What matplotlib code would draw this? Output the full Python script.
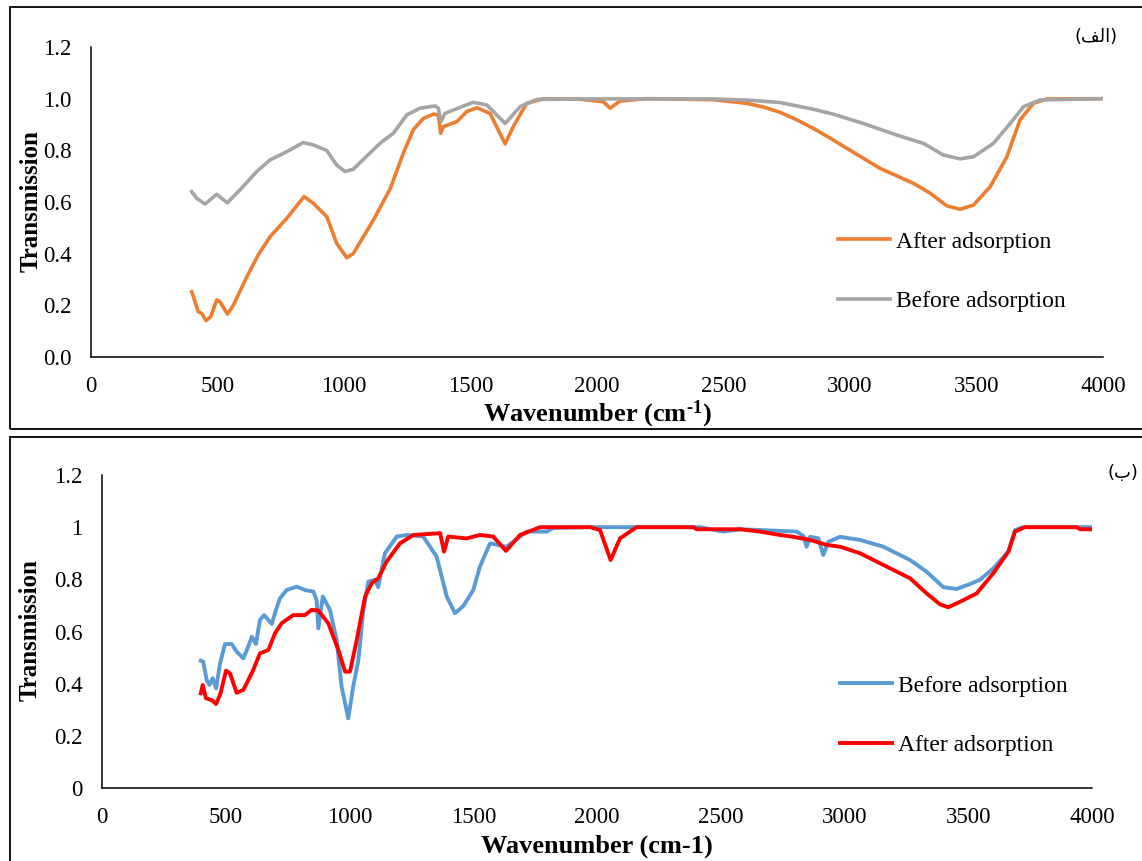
import matplotlib
matplotlib.use("Agg")
import matplotlib.pyplot as plt
from matplotlib.patches import Rectangle

plt.rcParams['font.family'] = ['Liberation Serif', 'DejaVu Sans']
plt.rcParams['mathtext.fontset'] = 'custom'
plt.rcParams['mathtext.rm'] = 'Liberation Serif:bold'
plt.rcParams['mathtext.it'] = 'Liberation Serif:bold'
plt.rcParams['mathtext.bf'] = 'Liberation Serif:bold'

# ---- panel (a): FTIR spectra, before / after adsorption ----
wn_a_after = [398, 405, 424, 437, 455, 473, 497, 510, 539, 563, 616, 661, 708, 774,
              842, 879, 932, 971, 1011, 1037, 1116, 1182, 1235, 1274, 1314, 1353,
              1373, 1382, 1393, 1446, 1485, 1525, 1577, 1637, 1669, 1722, 1788,
              1933, 2025, 2052, 2091, 2197, 2460, 2592, 2660, 2724, 2790, 2855,
              2920, 2987, 3119, 3251, 3317, 3383, 3435, 3488, 3554, 3620, 3672,
              3725, 3778, 4000]
tr_a_after = [0.253, 0.233, 0.175, 0.169, 0.141, 0.156, 0.221, 0.214, 0.166, 0.201,
              0.311, 0.395, 0.466, 0.537, 0.621, 0.595, 0.543, 0.440, 0.384, 0.401,
              0.530, 0.650, 0.790, 0.880, 0.924, 0.940, 0.937, 0.866, 0.892, 0.911,
              0.950, 0.965, 0.943, 0.825, 0.892, 0.982, 0.999, 0.998, 0.988, 0.963,
              0.991, 1.000, 0.996, 0.982, 0.967, 0.947, 0.918, 0.885, 0.848, 0.808,
              0.730, 0.672, 0.634, 0.585, 0.572, 0.588, 0.659, 0.775, 0.918, 0.982,
              0.999, 1.000]

wn_a_before = [398, 418, 451, 470, 497, 517, 539, 589, 655, 708, 774, 839, 879, 932,
               971, 1004, 1037, 1090, 1142, 1195, 1248, 1300, 1360, 1373, 1383,
               1399, 1458, 1511, 1564, 1637, 1696, 1762, 1933, 2459, 2600, 2724,
               2855, 2934, 3053, 3185, 3290, 3369, 3435, 3488, 3567, 3633, 3686,
               3751, 4000]
tr_a_before = [0.640, 0.614, 0.592, 0.608, 0.630, 0.614, 0.597, 0.647, 0.718, 0.763,
               0.795, 0.830, 0.821, 0.799, 0.743, 0.718, 0.727, 0.778, 0.827, 0.866,
               0.937, 0.963, 0.972, 0.963, 0.911, 0.943, 0.966, 0.986, 0.976, 0.904,
               0.969, 0.997, 0.999, 0.999, 0.994, 0.985, 0.959, 0.940, 0.904, 0.859,
               0.827, 0.782, 0.767, 0.775, 0.827, 0.904, 0.969, 0.995, 1.000]

# ---- panel (b) ----
wn_b_before = [399, 409, 423, 434, 447, 461, 477, 497, 524, 544, 571, 591, 605, 622,
               638, 655, 686, 703, 719, 746, 787, 820, 854, 867, 874, 892, 921, 948,
               968, 995, 1015, 1036, 1056, 1076, 1103, 1116, 1143, 1191, 1231, 1298,
               1352, 1393, 1426, 1460, 1500, 1527, 1568, 1635, 1716, 1797, 1823,
               1972, 2416, 2510, 2578, 2659, 2807, 2834, 2847, 2861, 2894, 2914,
               2935, 2982, 3063, 3157, 3265, 3332, 3399, 3453, 3507, 3547, 3601,
               3662, 3689, 3723, 3992]
tr_b_before = [0.488, 0.484, 0.414, 0.395, 0.421, 0.382, 0.478, 0.552, 0.552, 0.523,
               0.497, 0.542, 0.580, 0.552, 0.644, 0.663, 0.629, 0.683, 0.727, 0.759,
               0.772, 0.759, 0.753, 0.721, 0.612, 0.734, 0.683, 0.567, 0.389, 0.267,
               0.389, 0.491, 0.683, 0.791, 0.798, 0.770, 0.900, 0.964, 0.970, 0.964,
               0.887, 0.734, 0.670, 0.698, 0.759, 0.849, 0.938, 0.925, 0.983, 0.983,
               0.997, 1.000, 1.000, 0.983, 0.992, 0.989, 0.983, 0.966, 0.925, 0.963,
               0.957, 0.893, 0.944, 0.963, 0.951, 0.925, 0.874, 0.829, 0.770, 0.763,
               0.782, 0.798, 0.842, 0.906, 0.989, 1.000, 1.000]

wn_b_after = [399, 407, 420, 443, 461, 479, 501, 517, 544, 571, 611, 638, 672, 699,
              726, 773, 820, 847, 874, 914, 955, 982, 1002, 1029, 1063, 1090, 1116,
              1150, 1204, 1258, 1366, 1382, 1399, 1473, 1527, 1581, 1632, 1689,
              1770, 1972, 2012, 2055, 2093, 2160, 2389, 2403, 2578, 2659, 2726,
              2793, 2861, 2928, 2982, 3063, 3157, 3265, 3332, 3386, 3419, 3467,
              3534, 3601, 3662, 3689, 3729, 3938, 3952, 3999]
tr_b_after = [0.363, 0.395, 0.344, 0.337, 0.322, 0.363, 0.450, 0.440, 0.365, 0.376,
              0.452, 0.516, 0.529, 0.593, 0.632, 0.663, 0.663, 0.683, 0.680, 0.632,
              0.529, 0.446, 0.446, 0.567, 0.734, 0.785, 0.804, 0.868, 0.938, 0.970,
              0.977, 0.906, 0.964, 0.957, 0.970, 0.964, 0.909, 0.970, 1.000, 1.000,
              0.989, 0.874, 0.957, 1.000, 1.000, 0.992, 0.992, 0.983, 0.972, 0.963,
              0.951, 0.932, 0.925, 0.900, 0.855, 0.804, 0.746, 0.704, 0.693, 0.714,
              0.746, 0.823, 0.906, 0.983, 1.000, 1.000, 0.992, 0.992]

yticks_a = [0.0, 0.2, 0.4, 0.6, 0.8, 1.0, 1.2]
yticks_b = [0, 0.2, 0.4, 0.6, 0.8, 1, 1.2]
ylabels_a = ['0.0', '0.2', '0.4', '0.6', '0.8', '1.0', '1.2']
ylabels_b = ['0', '0.2', '0.4', '0.6', '0.8', '1', '1.2']
xticks = [0, 500, 1000, 1500, 2000, 2500, 3000, 3500, 4000]

W, H = 1142, 861
fig = plt.figure(figsize=(W / 100, H / 100), dpi=100)

# outer frames around each panel
fig.patches.append(Rectangle((10 / W, 1 - 429 / H), 1.1, 422 / H, transform=fig.transFigure,
                             fill=False, edgecolor='black', linewidth=1.3))
fig.patches.append(Rectangle((10 / W, -0.1), 1.1, 1 - 437 / H + 0.1, transform=fig.transFigure,
                             fill=False, edgecolor='black', linewidth=1.3))

ax1 = fig.add_axes([91 / W, 1 - 357 / H, 1012 / W, 310 / H])
ax2 = fig.add_axes([102 / W, 1 - 788 / H, 990 / W, 313 / H])


def style(ax, yticks, ylabels):
    ax.set_xlim(0, 4000)
    ax.set_ylim(0, 1.2)
    ax.set_xticks(xticks)
    ax.set_yticks(yticks)
    ax.set_yticklabels(ylabels)
    ax.tick_params(length=0, labelsize=16.5)
    ax.tick_params(axis='y', pad=14)
    ax.tick_params(axis='x', pad=14)
    for s in ['top', 'right']:
        ax.spines[s].set_visible(False)
    for s in ['left', 'bottom']:
        ax.spines[s].set_linewidth(1.1)


style(ax1, yticks_a, ylabels_a)
ax1.plot(wn_a_after, tr_a_after, color='#ED7D31', lw=2.6, label='After adsorption')
ax1.plot(wn_a_before, tr_a_before, color='#A5A5A5', lw=2.6, label='Before adsorption')
ax1.set_ylabel('Transmission', fontsize=18, fontweight='bold')
ax1.yaxis.set_label_coords(-0.048, 0.503)
ax1.set_xlabel(r'Wavenumber (cm$^{\text{-1}}$)', fontsize=19, fontweight='bold')
ax1.xaxis.set_label_coords(0.5, -0.135)
ax1.legend(loc='center left', bbox_to_anchor=(838 / W, 1 - 271.5 / H),
           bbox_transform=fig.transFigure, frameon=False, fontsize=17,
           handlelength=2.2, handletextpad=0.25, labelspacing=1.6,
           borderpad=0, borderaxespad=0)
fig.text(1118 / W, 1 - 37 / H, '(\ufed2\ufedf\ufe8d)', fontsize=13,
         ha='right', va='center', family=['DejaVu Sans'])

style(ax2, yticks_b, ylabels_b)
ax2.plot(wn_b_before, tr_b_before, color='#5B9BD5', lw=2.8, label='Before adsorption')
ax2.plot(wn_b_after, tr_b_after, color='#FF0000', lw=2.8, label='After adsorption')
ax2.set_ylabel('Transmission', fontsize=18, fontweight='bold')
ax2.yaxis.set_label_coords(-0.061, 0.505)
ax2.set_xlabel('Wavenumber (cm-1)', fontsize=19, fontweight='bold')
ax2.xaxis.set_label_coords(0.5, -0.148)
ax2.legend(loc='center left', bbox_to_anchor=(840 / W, 1 - 715.5 / H),
           bbox_transform=fig.transFigure, frameon=False, fontsize=17,
           handlelength=2.2, handletextpad=0.25, labelspacing=1.6,
           borderpad=0, borderaxespad=0)
fig.text(1138 / W, 1 - 473 / H, '(\ufe8f)', fontsize=13,
         ha='right', va='center', family=['DejaVu Sans'])

fig.savefig('out.png', dpi=100)
